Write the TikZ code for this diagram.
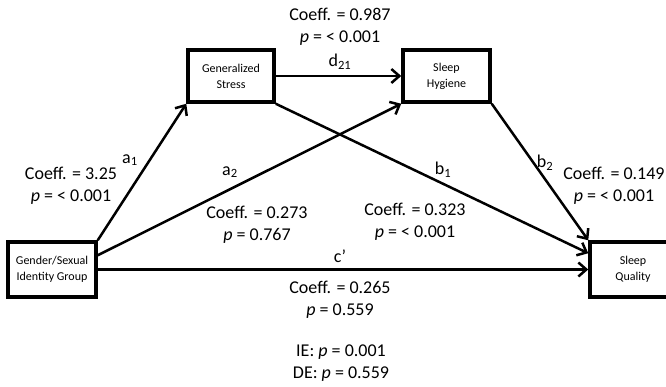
\documentclass[tikz,border=0pt]{standalone}
\usepackage{fontspec}
\setmainfont{Carlito}
\usetikzlibrary{arrows.meta}

\begin{document}
\begin{tikzpicture}[x=1pt, y=-1pt, line width=2.5pt,
    every node/.style={font=\fontsize{18}{22}\selectfont},
    varbox/.style={draw, line width=3.5pt, minimum width=86pt, minimum height=52pt,
      align=center, font=\fontsize{12}{16}\selectfont},
    link/.style={-{Straight Barb[length=8pt,width=14pt]}},
    stat/.style={align=center}]
  % Frame (the right box runs off the edge)
  \useasboundingbox (0,0) rectangle (666,386);
  \clip (0,0) rectangle (666,386);

  % Variables
  \node[varbox] (stress) at (231,76) {Generalized\\Stress};
  \node[varbox, minimum width=87pt] (hygiene) at (446.5,76) {Sleep\\Hygiene};
  \node[varbox, minimum width=88pt, minimum height=55pt] (group) at (52,269.5) {Gender/Sexual\\Identity Group};
  \node[varbox, minimum height=55pt] (quality) at (633,269.5) {Sleep\\Quality};

  % Paths
  \draw[link] (group.north east) -- (stress.south west);
  \draw[link] ([yshift=-15pt]group.north east) -- (hygiene.south west);
  \draw[link] (group.east) -- (quality.west);
  \draw[link] (stress.east) -- (hygiene.west);
  \draw[link] (stress.south east) -- ([yshift=-13pt]quality.north west);
  \draw[link] (hygiene.south east) -- (quality.north west);

  % Path names
  \node (a1) at (130,160) {a\textsubscript{1}};
  \node (a2) at (230,172) {a\textsubscript{2}};
  \node (d21) at (340,62) {d\textsubscript{21}};
  \node (b1) at (443,170) {b\textsubscript{1}};
  \node (b2) at (545,163) {b\textsubscript{2}};
  \node (c) at (340,256) {c'};

  % Coefficients
  \node[stat] (d21stat) at (340,27) {Coeff. = 0.987\\\textit{p} = < 0.001};
  \node[stat] (a1stat) at (71,186) {Coeff. = 3.25\\\textit{p} = < 0.001};
  \node[stat] (a2stat) at (257,225) {Coeff. = 0.273\\\textit{p} = 0.767};
  \node[stat] (b1stat) at (415,222) {Coeff. = 0.323\\\textit{p} = < 0.001};
  \node[stat] (b2stat) at (614,186) {Coeff. = 0.149\\\textit{p} = < 0.001};
  \node[stat] (cstat) at (340,300) {Coeff. = 0.265\\\textit{p} = 0.559};
  \node[stat] (effects) at (341,363) {IE: \textit{p} = 0.001\\DE: \textit{p} = 0.559};
\end{tikzpicture}
\end{document}
